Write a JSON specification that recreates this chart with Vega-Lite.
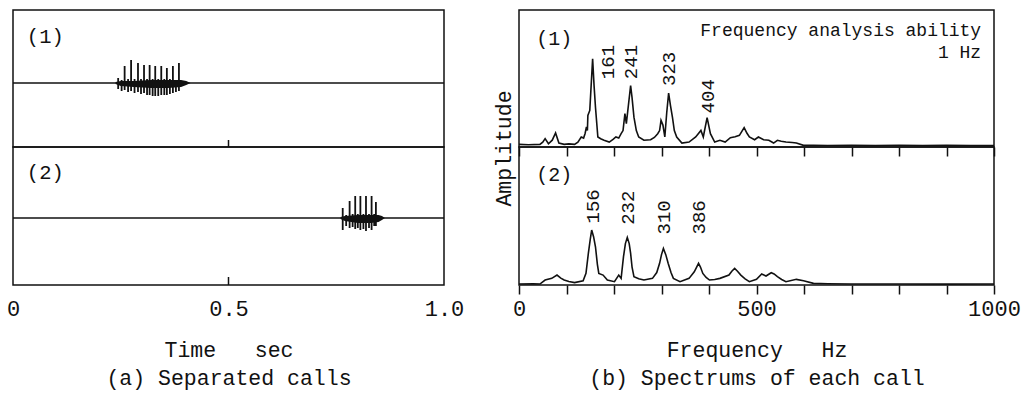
{
  "$schema": "https://vega.github.io/schema/vega-lite/v6.json",
  "background": "white",
  "padding": {"left": 5, "top": 9, "right": 0, "bottom": 6},
  "columns": 2,
  "spacing": {"row": 0, "column": 75},
  "bounds": "flush",
  "config": {
    "font": "Liberation Mono",
    "view": {"stroke": "#111", "strokeWidth": 1.5},
    "axis": {"labelColor": "#111", "titleColor": "#111", "labelFontSize": 22, "titleFontSize": 21.5, "titleFontWeight": "normal", "grid": false, "labelFlush": false}
  },
  "datasets": {
    "call1": [
      {"t": 0.244, "lo": -6, "hi": 5},
      {"t": 0.252, "lo": -8, "hi": 3},
      {"t": 0.259, "lo": -7, "hi": 17},
      {"t": 0.267, "lo": -9, "hi": 4},
      {"t": 0.274, "lo": -8, "hi": 23},
      {"t": 0.282, "lo": -10, "hi": 4},
      {"t": 0.290, "lo": -9, "hi": 20},
      {"t": 0.297, "lo": -11, "hi": 4},
      {"t": 0.304, "lo": -10, "hi": 18},
      {"t": 0.311, "lo": -12, "hi": 4},
      {"t": 0.317, "lo": -12, "hi": 18},
      {"t": 0.324, "lo": -13, "hi": 4},
      {"t": 0.330, "lo": -13, "hi": 17},
      {"t": 0.337, "lo": -13, "hi": 4},
      {"t": 0.344, "lo": -12, "hi": 17},
      {"t": 0.351, "lo": -12, "hi": 4},
      {"t": 0.357, "lo": -12, "hi": 15},
      {"t": 0.364, "lo": -11, "hi": 4},
      {"t": 0.371, "lo": -10, "hi": 17},
      {"t": 0.378, "lo": -9, "hi": 3},
      {"t": 0.385, "lo": -8, "hi": 20}
    ],
    "call1body": [
      {"t": 0.238, "lo": -1, "hi": 1},
      {"t": 0.250, "lo": -3, "hi": 2},
      {"t": 0.280, "lo": -4, "hi": 2},
      {"t": 0.320, "lo": -5, "hi": 3},
      {"t": 0.360, "lo": -5, "hi": 3},
      {"t": 0.390, "lo": -4, "hi": 3},
      {"t": 0.402, "lo": -2, "hi": 2},
      {"t": 0.412, "lo": 0, "hi": 0}
    ],
    "call2": [
      {"t": 0.765, "lo": -12, "hi": 10},
      {"t": 0.773, "lo": -8, "hi": 3},
      {"t": 0.781, "lo": -10, "hi": 17},
      {"t": 0.788, "lo": -9, "hi": 4},
      {"t": 0.794, "lo": -11, "hi": 22},
      {"t": 0.800, "lo": -10, "hi": 4},
      {"t": 0.806, "lo": -12, "hi": 22},
      {"t": 0.813, "lo": -11, "hi": 4},
      {"t": 0.819, "lo": -13, "hi": 22},
      {"t": 0.826, "lo": -10, "hi": 4},
      {"t": 0.832, "lo": -12, "hi": 22},
      {"t": 0.838, "lo": -8, "hi": 4},
      {"t": 0.842, "lo": -8, "hi": 16}
    ],
    "call2body": [
      {"t": 0.760, "lo": -1, "hi": 1},
      {"t": 0.770, "lo": -3, "hi": 2},
      {"t": 0.800, "lo": -5, "hi": 3},
      {"t": 0.830, "lo": -5, "hi": 3},
      {"t": 0.848, "lo": -4, "hi": 3},
      {"t": 0.856, "lo": -2, "hi": 2},
      {"t": 0.863, "lo": 0, "hi": 0}
    ],
    "spec1": [
      {"f": 0, "a": 1.9}, {"f": 20, "a": 1.6}, {"f": 44, "a": 1.9}, {"f": 50, "a": 3.5}, {"f": 55, "a": 6.1},
      {"f": 62, "a": 2.4}, {"f": 70, "a": 5}, {"f": 77, "a": 10.2}, {"f": 84, "a": 2.9}, {"f": 95, "a": 1.9},
      {"f": 105, "a": 2.3}, {"f": 117, "a": 1.9}, {"f": 124, "a": 3.6}, {"f": 131, "a": 7.3}, {"f": 136, "a": 6.5},
      {"f": 139, "a": 9.7}, {"f": 142, "a": 14.6}, {"f": 144, "a": 12}, {"f": 145, "a": 23}, {"f": 149, "a": 26.7},
      {"f": 155, "a": 64.3}, {"f": 158, "a": 45}, {"f": 161, "a": 29}, {"f": 166, "a": 7.3}, {"f": 172, "a": 6},
      {"f": 179, "a": 4.9}, {"f": 190, "a": 3.6}, {"f": 198, "a": 5.5}, {"f": 204, "a": 7.3}, {"f": 210, "a": 6.5},
      {"f": 215, "a": 9.7}, {"f": 219, "a": 12}, {"f": 223, "a": 24.3}, {"f": 226, "a": 17}, {"f": 235, "a": 44.9},
      {"f": 238, "a": 36}, {"f": 242, "a": 21.8}, {"f": 247, "a": 12}, {"f": 252, "a": 7.3}, {"f": 263, "a": 4.9},
      {"f": 277, "a": 5.3}, {"f": 285, "a": 7}, {"f": 292, "a": 9.7}, {"f": 296, "a": 12}, {"f": 299, "a": 19.4},
      {"f": 303, "a": 16}, {"f": 307, "a": 7.3}, {"f": 311, "a": 25}, {"f": 315, "a": 39.3}, {"f": 319, "a": 30},
      {"f": 323, "a": 21.8}, {"f": 327, "a": 12}, {"f": 332, "a": 7.3}, {"f": 343, "a": 2.9}, {"f": 358, "a": 3.6},
      {"f": 372, "a": 7.3}, {"f": 383, "a": 12.1}, {"f": 388, "a": 7.3}, {"f": 396, "a": 21.4}, {"f": 403, "a": 9.7},
      {"f": 412, "a": 3.6}, {"f": 423, "a": 4.9}, {"f": 434, "a": 3.6}, {"f": 445, "a": 6.8}, {"f": 455, "a": 7.5},
      {"f": 464, "a": 8.5}, {"f": 474, "a": 14.1}, {"f": 480, "a": 10}, {"f": 485, "a": 7.3}, {"f": 496, "a": 5.3},
      {"f": 504, "a": 7.3}, {"f": 515, "a": 5.3}, {"f": 526, "a": 4.9}, {"f": 536, "a": 2.9}, {"f": 544, "a": 4.9},
      {"f": 552, "a": 4.2}, {"f": 562, "a": 3.6}, {"f": 575, "a": 3.3}, {"f": 584, "a": 2.9}, {"f": 599, "a": 1.2},
      {"f": 620, "a": 1.3}, {"f": 650, "a": 1.1}, {"f": 700, "a": 1.2}, {"f": 750, "a": 1.0}, {"f": 800, "a": 1.3},
      {"f": 850, "a": 1.0}, {"f": 900, "a": 1.2}, {"f": 950, "a": 1.0}, {"f": 1000, "a": 1.0}
    ],
    "spec2": [
      {"f": 0, "a": 0.7}, {"f": 30, "a": 0.8}, {"f": 44, "a": 0.7}, {"f": 55, "a": 3.6}, {"f": 69, "a": 4.8},
      {"f": 80, "a": 7.2}, {"f": 88, "a": 5}, {"f": 95, "a": 3.6}, {"f": 105, "a": 2.5}, {"f": 117, "a": 1.7},
      {"f": 135, "a": 3.1}, {"f": 141, "a": 8.4}, {"f": 146, "a": 22.9}, {"f": 150, "a": 33}, {"f": 153, "a": 39.8},
      {"f": 157, "a": 35}, {"f": 161, "a": 27.7}, {"f": 165, "a": 15}, {"f": 168, "a": 8.4}, {"f": 177, "a": 7.2},
      {"f": 186, "a": 3.6}, {"f": 201, "a": 2.4}, {"f": 210, "a": 7.2}, {"f": 215, "a": 4.8}, {"f": 220, "a": 20.5},
      {"f": 224, "a": 30}, {"f": 228, "a": 34.5}, {"f": 232, "a": 30}, {"f": 235, "a": 22.9}, {"f": 238, "a": 13},
      {"f": 242, "a": 6.0}, {"f": 252, "a": 4.5}, {"f": 263, "a": 3.6}, {"f": 281, "a": 4.8}, {"f": 290, "a": 9},
      {"f": 296, "a": 15.7}, {"f": 300, "a": 22}, {"f": 304, "a": 26.5}, {"f": 309, "a": 22}, {"f": 314, "a": 15.7},
      {"f": 320, "a": 9}, {"f": 325, "a": 4.8}, {"f": 339, "a": 2.4}, {"f": 358, "a": 4.8}, {"f": 369, "a": 9.6},
      {"f": 374, "a": 13}, {"f": 378, "a": 15.7}, {"f": 382, "a": 13}, {"f": 387, "a": 8.4}, {"f": 394, "a": 5.5},
      {"f": 401, "a": 3.6}, {"f": 412, "a": 4}, {"f": 423, "a": 4.8}, {"f": 442, "a": 7.2}, {"f": 448, "a": 10},
      {"f": 454, "a": 12.0}, {"f": 460, "a": 10}, {"f": 467, "a": 7.2}, {"f": 476, "a": 4.5}, {"f": 485, "a": 2.4},
      {"f": 500, "a": 4.1}, {"f": 511, "a": 8.0}, {"f": 520, "a": 6.5}, {"f": 531, "a": 8.9}, {"f": 537, "a": 8},
      {"f": 544, "a": 6.0}, {"f": 553, "a": 4}, {"f": 562, "a": 2.4}, {"f": 584, "a": 4.1}, {"f": 599, "a": 3.1},
      {"f": 620, "a": 1.2}, {"f": 650, "a": 0.9}, {"f": 700, "a": 0.7}, {"f": 800, "a": 0.7}, {"f": 900, "a": 0.6},
      {"f": 1000, "a": 0.7}
    ],
    "peaks1": [
      {"peak": "161", "f": 187, "a": 62},
      {"peak": "241", "f": 236, "a": 62},
      {"peak": "323", "f": 316, "a": 57},
      {"peak": "404", "f": 397, "a": 37}
    ],
    "peaks2": [
      {"peak": "156", "f": 155, "a": 57},
      {"peak": "232", "f": 229, "a": 56},
      {"peak": "310", "f": 305, "a": 49},
      {"peak": "386", "f": 379, "a": 49}
    ],
    "notes": [
      {"note": "Frequency analysis ability", "a": 85},
      {"note": "1 Hz", "a": 68.5}
    ]
  },
  "concat": [
    {
      "width": 431, "height": 137,
      "layer": [
        {"data": {"values": [{}]}, "mark": {"type": "rule", "strokeWidth": 1.6, "color": "#111"},
         "encoding": {"y": {"datum": 0, "type": "quantitative", "scale": {"domain": [-64, 73], "nice": false, "zero": false}, "axis": null}}},
        {"data": {"name": "call1"}, "mark": {"type": "rule", "strokeWidth": 1.8, "color": "#111"},
         "encoding": {"x": {"field": "t", "type": "quantitative", "scale": {"domain": [0, 1], "nice": false}, "axis": null},
                      "y": {"field": "lo", "type": "quantitative"}, "y2": {"field": "hi"}}},
        {"data": {"name": "call1body"}, "mark": {"type": "area", "color": "#111"},
         "encoding": {"x": {"field": "t", "type": "quantitative"}, "y": {"field": "lo", "type": "quantitative"}, "y2": {"field": "hi"}}},
        {"data": {"values": [{}]}, "mark": {"type": "rule", "strokeWidth": 1.5, "color": "#111"},
         "encoding": {"x": {"datum": 0.5, "type": "quantitative"}, "y": {"datum": -64, "type": "quantitative"}, "y2": {"datum": -57}}},
        {"data": {"values": [{}]}, "mark": {"type": "text", "fontSize": 20.5, "color": "#111"},
         "encoding": {"x": {"datum": 0.075, "type": "quantitative"}, "y": {"datum": 46, "type": "quantitative"}, "text": {"value": "(1)"}}}
      ]
    },
    {
      "width": 475, "height": 137,
      "layer": [
        {"data": {"name": "spec1"}, "mark": {"type": "line", "strokeWidth": 1.6, "color": "#111"},
         "encoding": {
           "x": {"field": "f", "type": "quantitative", "scale": {"domain": [0, 1000], "nice": false},
                 "axis": {"values": [0, 100, 200, 300, 400, 500, 600, 700, 800, 900, 1000], "labels": false, "domain": false, "ticks": true, "tickSize": 9, "tickWidth": 1.5, "tickColor": "#111", "title": null}},
           "y": {"field": "a", "type": "quantitative", "scale": {"domain": [0, 100], "nice": false},
                 "axis": {"title": "Amplitude", "labels": false, "ticks": false, "domain": false, "titleX": -9, "titleY": 138, "titleAngle": 270, "titleBaseline": "alphabetic", "titleAlign": "center", "titleFontSize": 21.5}}
         }},
        {"data": {"name": "peaks1"}, "mark": {"type": "text", "angle": 270, "fontSize": 19, "baseline": "middle", "align": "center", "color": "#111"},
         "encoding": {"x": {"field": "f", "type": "quantitative"}, "y": {"field": "a", "type": "quantitative"}, "text": {"field": "peak"}}},
        {"data": {"name": "notes"}, "mark": {"type": "text", "fontSize": 18, "align": "right", "baseline": "middle", "color": "#111"},
         "encoding": {"x": {"datum": 973, "type": "quantitative"}, "y": {"field": "a", "type": "quantitative"}, "text": {"field": "note"}}},
        {"data": {"values": [{}]}, "mark": {"type": "text", "fontSize": 20, "color": "#111"},
         "encoding": {"x": {"datum": 74, "type": "quantitative"}, "y": {"datum": 79, "type": "quantitative"}, "text": {"value": "(1)"}}}
      ]
    },
    {
      "width": 431, "height": 138,
      "layer": [
        {"data": {"values": [{}]}, "mark": {"type": "rule", "strokeWidth": 1.6, "color": "#111"},
         "encoding": {"y": {"datum": 0, "type": "quantitative", "scale": {"domain": [-67, 71], "nice": false, "zero": false}, "axis": null}}},
        {"data": {"name": "call2"}, "mark": {"type": "rule", "strokeWidth": 1.8, "color": "#111"},
         "encoding": {"x": {"field": "t", "type": "quantitative", "scale": {"domain": [0, 1], "nice": false},
                            "axis": {"values": [0, 0.5, 1], "labelExpr": "datum.value === 0 ? '0' : format(datum.value, '.1f')", "ticks": false, "domain": false, "labelPadding": 13,
                                     "title": ["Time\u00a0\u00a0\u00a0sec", "(a) Separated calls"], "titleLineHeight": 28, "titlePadding": 20}},
                      "y": {"field": "lo", "type": "quantitative"}, "y2": {"field": "hi"}}},
        {"data": {"name": "call2body"}, "mark": {"type": "area", "color": "#111"},
         "encoding": {"x": {"field": "t", "type": "quantitative"}, "y": {"field": "lo", "type": "quantitative"}, "y2": {"field": "hi"}}},
        {"data": {"values": [{}]}, "mark": {"type": "rule", "strokeWidth": 1.5, "color": "#111"},
         "encoding": {"x": {"datum": 0.5, "type": "quantitative"}, "y": {"datum": -67, "type": "quantitative"}, "y2": {"datum": -59}}},
        {"data": {"values": [{}]}, "mark": {"type": "text", "fontSize": 20.5, "color": "#111"},
         "encoding": {"x": {"datum": 0.075, "type": "quantitative"}, "y": {"datum": 45, "type": "quantitative"}, "text": {"value": "(2)"}}}
      ]
    },
    {
      "width": 475, "height": 138,
      "layer": [
        {"data": {"name": "spec2"}, "mark": {"type": "line", "strokeWidth": 1.6, "color": "#111"},
         "encoding": {
           "x": {"field": "f", "type": "quantitative", "scale": {"domain": [0, 1000], "nice": false},
                 "axis": {"values": [0, 100, 200, 300, 400, 500, 600, 700, 800, 900, 1000], "labelExpr": "datum.value % 500 === 0 ? format(datum.value, 'd') : ''", "labelOverlap": false, "domain": false, "ticks": true, "tickSize": 9, "tickWidth": 1.5, "tickColor": "#111", "labelPadding": 4,
                          "title": ["Frequency\u00a0\u00a0\u00a0Hz", "(b) Spectrums of each call"], "titleLineHeight": 28, "titlePadding": 20}},
           "y": {"field": "a", "type": "quantitative", "scale": {"domain": [0, 100], "nice": false}, "axis": null}
         }},
        {"data": {"name": "peaks2"}, "mark": {"type": "text", "angle": 270, "fontSize": 19, "baseline": "middle", "align": "center", "color": "#111"},
         "encoding": {"x": {"field": "f", "type": "quantitative"}, "y": {"field": "a", "type": "quantitative"}, "text": {"field": "peak"}}},
        {"data": {"values": [{}]}, "mark": {"type": "text", "fontSize": 20, "color": "#111"},
         "encoding": {"x": {"datum": 74, "type": "quantitative"}, "y": {"datum": 80, "type": "quantitative"}, "text": {"value": "(2)"}}}
      ]
    }
  ]
}
